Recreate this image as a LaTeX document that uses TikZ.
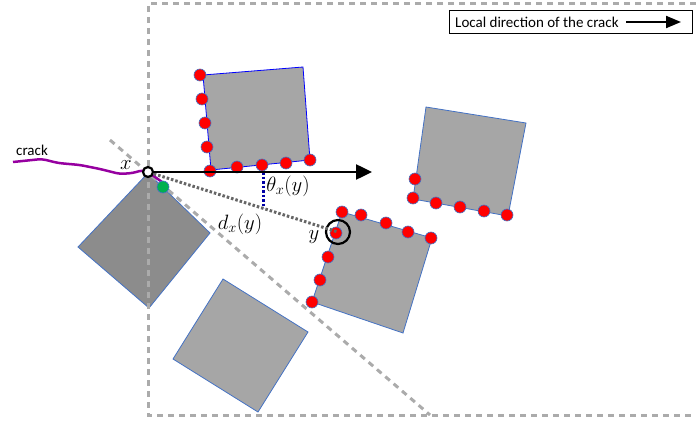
\documentclass[tikz,border=0pt]{standalone}
\usepackage{fontspec}
\setsansfont{Carlito}
\usetikzlibrary{arrows.meta}
\definecolor{grainedge}{RGB}{68,114,196}
\definecolor{crackcol}{RGB}{150,0,160}
\definecolor{seedcol}{RGB}{0,176,80}

\begin{document}
\begin{tikzpicture}[x=1pt, y=-1pt]
    \tikzstyle{guide}=[draw=black!33, line width=3pt, dash pattern=on 6pt off 5pt]
    \tikzstyle{grain}=[draw=grainedge, fill=black!35, line width=0.8pt]
    \tikzstyle{dot}=[circle, draw=grainedge, fill=red, line width=0.6pt, inner sep=0pt, minimum size=12pt]
    \tikzstyle{lab}=[inner sep=0pt, font=\fontsize{21}{24}\selectfont]
    \tikzstyle{dots}=[line width=3pt, dash pattern=on 2.5pt off 2pt]
    \useasboundingbox (0,0) rectangle (696,425);

    % grains
    \draw [grain, draw=blue] (203,75) -- (303,67) -- (310,160) -- (211,170) -- cycle;
    \draw [grain] (426,107) -- (526,123) -- (508,216) -- (413,199) -- cycle;
    \draw [grain] (342,212) -- (432,238) -- (403,333) -- (312,302) -- cycle;
    \draw [grain, fill=black!45] (148,173) -- (210,233) -- (149,308) -- (78,247) -- cycle;
    \draw [grain] (223,279) -- (308,332) -- (258,412) -- (173,359) -- cycle;

    % domain
    \draw [guide] (696,4) -- (148,4) -- (148,415) -- (696,415);
    \draw [guide] (110,140) -- (430,415);

    % crack
    \draw [crackcol, line width=2.5pt, rounded corners=4pt] (13,162) -- (42,159) -- (58,163) -- (80,165) -- (100,169) -- (120,174) -- (133,173) -- (143,170) -- (148,172) -- (162,182);
    \node (cracklab) [font=\sffamily\fontsize{15}{17}\selectfont] at (32,150) {crack};

    % boundary points
    \foreach \p [count=\i] in {(200,75),(202,99),(205,123),(207,147),(210,171),(237,167),(262,165),(286,163),(310,160)}
        \node (a\i) [dot] at \p {};
    \foreach \p [count=\i] in {(415,179),(413,198),(436,203),(460,207),(484,211),(507,215)}
        \node (b\i) [dot] at \p {};
    \foreach \p [count=\i] in {(342,212),(361,215),(386,223),(408,232),(431,238),(336,233),(328,257),(320,280),(312,302)}
        \node (c\i) [dot] at \p {};
    \node (seed) [dot, fill=seedcol] at (163,187) {};

    % crack tip and target
    \node (x) [circle, draw, fill=white, line width=2.2pt, minimum size=10pt, inner sep=0pt] at (148,172) {};
    \node (y) [circle, draw, line width=2.2pt, minimum size=24pt, inner sep=0pt] at (338,232) {};
    \coordinate (dir) at (372,172);
    \coordinate (thtop) at (263,172);
    \coordinate (thbot) at (263,208);

    \draw [dots, black!60] (x) -- (y.center);
    \draw [dots, blue!65!black] (thtop) -- (thbot);
    \draw [-{Triangle[length=16pt,width=15pt]}, line width=2.5pt] (x) -- (dir);

    \node (xlab) [lab] at (126,165) {$x$};
    \node (ylab) [lab] at (314,237) {$y$};
    \node (thlab) [lab] at (288,186) {$\theta_x(y)$};
    \node (dlab) [lab] at (240,224) {$d_x(y)$};

    % legend
    \node (legend) [draw, line width=0.8pt, minimum width=243pt, minimum height=23pt, anchor=north west] at (449,10) {};
    \node (legtext) [anchor=west, inner sep=0pt, font=\sffamily\fontsize{15}{17}\selectfont] at (455,22) {Local direction of the crack};
    \coordinate (la) at (626,22);
    \coordinate (lb) at (681,22);
    \draw [-{Triangle[length=15pt,width=12pt]}, line width=2pt] (la) -- (lb);
\end{tikzpicture}
\end{document}
